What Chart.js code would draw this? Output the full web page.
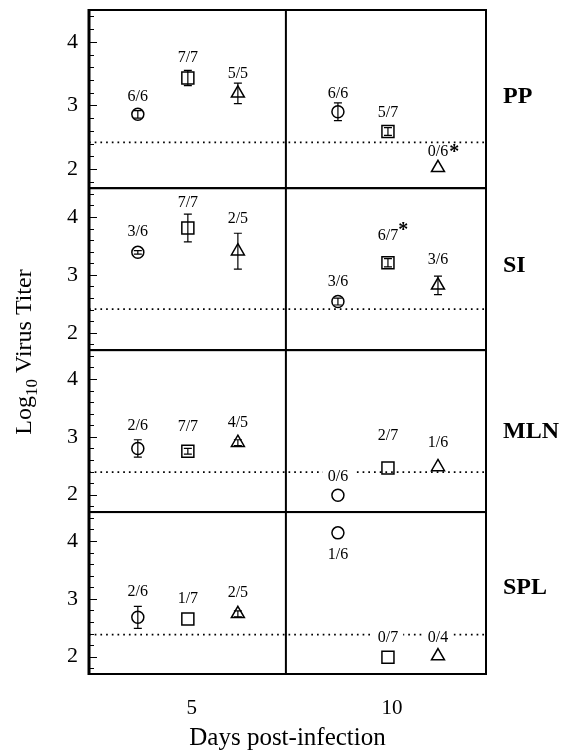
<!DOCTYPE html>
<html><head><meta charset="utf-8">
<script src="https://cdn.jsdelivr.net/npm/chart.js@4/dist/chart.umd.min.js"></script>
<style>html,body{margin:0;padding:0;background:#fff;} #wrap{width:564px;height:751px;position:relative;}</style>
</head><body><div id="wrap"><canvas id="c" width="564" height="751"></canvas></div>
<script>
// ---------- data ----------
const panels = ['PP', 'SI', 'MLN', 'SPL'];
const days = [5, 10];
const xTicks = [5, 10];
const yTicks = [2, 3, 4];
// order inside each array: day 5 (circle, square, triangle), day 10 (circle, square, triangle)
const ppTiter   = [2.86, 3.43, 3.19, 2.90, 2.59, 2.02];
const ppError   = [0.06, 0.12, 0.16, 0.14, 0.06, 0];
const ppLabels  = ['6/6', '7/7', '5/5', '6/6', '5/7', '0/6'];
const ppStar    = [false, false, false, false, false, true];

const siTiter   = [3.39, 3.81, 3.41, 2.54, 3.21, 2.82];
const siError   = [0.03, 0.24, 0.31, 0.06, 0.07, 0.16];
const siLabels  = ['3/6', '7/7', '2/5', '3/6', '6/7', '3/6'];
const siStar    = [false, false, false, false, true, false];

const mlnTiter  = [2.80, 2.75, 2.90, 1.99, 2.46, 2.48];
const mlnError  = [0.15, 0.05, 0.05, 0, 0, 0];
const mlnLabels = ['2/6', '7/7', '4/5', '0/6', '2/7', '1/6'];
const mlnStar   = [false, false, false, false, false, false];

const splTiter  = [2.68, 2.65, 2.74, 4.14, 1.99, 2.01];
const splError  = [0.19, 0, 0.05, 0, 0, 0];
const splLabels = ['2/6', '1/7', '2/5', '1/6', '0/7', '0/4'];
const splStar   = [false, false, false, false, false, false];

const detectionLimit = [2.42, 2.41, 2.39, 2.38];

const panelData = {
  PP:  {titer: ppTiter,  err: ppError,  labels: ppLabels,  star: ppStar},
  SI:  {titer: siTiter,  err: siError,  labels: siLabels,  star: siStar},
  MLN: {titer: mlnTiter, err: mlnError, labels: mlnLabels, star: mlnStar},
  SPL: {titer: splTiter, err: splError, labels: splLabels, star: splStar}
};

// ---------- styling ----------
const SERIF = '"Liberation Serif", "Times New Roman", serif';
const groupOffset = [-1.35, -0.1, 1.15];
const groupStyle = ['circle', 'rect', 'triangle'];
const groupRadius = [6, 8.5, 7.5];
const dayBoundary = 7.35;
const X_MIN = 2.43, X_MAX = 12.35;
const labelDy = {
  PP:  [-18, -20, -20, -18, -19, -16],
  SI:  [-21, -25, -32, -20, -27, -26],
  MLN: [-23, -25, -20, -18, -32, -24],
  SPL: [-26, -20, -21, 22, -19, -18]
};
const starPos = {PP: [1, 1], SI: [0, -5]};
const panelNameDy = {PP: -2, SI: -3, MLN: 1, SPL: -5};
const stackWeight = {PP: 1.1, SI: 1, MLN: 1, SPL: 1};

const xOf = i => days[Math.floor(i / 3)] + groupOffset[i % 3];

const datasets = [];
panels.forEach((p, pi) => {
  const d = panelData[p];
  datasets.push({
    type: 'scatter',
    label: p,
    yAxisID: 'y' + p,
    data: d.titer.map((v, i) => ({x: xOf(i), y: v})),
    pointStyle: d.titer.map((v, i) => groupStyle[i % 3]),
    pointRadius: d.titer.map((v, i) => groupRadius[i % 3]),
    pointHoverRadius: d.titer.map((v, i) => groupRadius[i % 3]),
    pointBorderColor: '#000',
    pointBackgroundColor: 'rgba(0,0,0,0)',
    pointBorderWidth: 1.5,
    clip: false
  });
  datasets.push({
    type: 'line',
    label: p + ' limit',
    yAxisID: 'y' + p,
    data: [{x: X_MIN, y: detectionLimit[pi]}, {x: X_MAX, y: detectionLimit[pi]}],
    borderColor: '#000',
    borderWidth: 1.7,
    borderDash: [1.7, 4],
    pointRadius: 0,
    fill: false
  });
});

const scales = {
  x: {
    type: 'linear', position: 'bottom', min: X_MIN, max: X_MAX,
    afterBuildTicks: s => { s.ticks = xTicks.map(v => ({value: v})); },
    afterFit: s => { s.height = 77; s.paddingLeft = 0; s.paddingRight = 0; },
    grid: {display: false, drawTicks: false}, border: {display: false},
    ticks: {color: '#000', font: {family: SERIF, size: 21}, padding: 22, maxRotation: 0},
    title: {display: true, text: 'Days post-infection', color: '#000', font: {family: SERIF, size: 25}, padding: {top: 0, bottom: -2}}
  }
};
// stacked axes: later-defined are placed on top
['SPL', 'MLN', 'SI', 'PP'].forEach(p => {
  scales['y' + p] = {
    type: 'linear', position: 'left', stack: 'panels', stackWeight: stackWeight[p],
    min: 1.7, max: 4.5,
    afterBuildTicks: s => { s.ticks = yTicks.map(v => ({value: v})); },
    afterFit: s => { s.width = 89; s.paddingTop = 0; s.paddingBottom = 0; },
    grid: {display: false, drawTicks: false}, border: {display: false},
    ticks: {color: '#000', font: {family: SERIF, size: 22}, padding: 11}
  };
});

const overlay = {
  id: 'overlay',
  afterDatasetsDraw(chart) {
    const ctx = chart.ctx, xs = chart.scales.x, area = chart.chartArea;
    ctx.save();
    ctx.strokeStyle = '#000'; ctx.fillStyle = '#000';
    panels.forEach((p, pi) => {
      const ys = chart.scales['y' + p];
      const d = panelData[p];
      d.titer.forEach((v, i) => {
        const x = xs.getPixelForValue(xOf(i));
        const y = ys.getPixelForValue(v);
        // error bar
        const e = d.err[i];
        if (e > 0) {
          const yt = ys.getPixelForValue(v + e), yb = ys.getPixelForValue(v - e);
          ctx.beginPath();
          ctx.moveTo(x, yt); ctx.lineTo(x, yb);
          ctx.moveTo(x - 4, yt); ctx.lineTo(x + 4, yt);
          ctx.moveTo(x - 4, yb); ctx.lineTo(x + 4, yb);
          ctx.lineWidth = 1.2; ctx.stroke();
        }
        // label
        ctx.font = '16px ' + SERIF;
        ctx.textAlign = 'center'; ctx.textBaseline = 'middle';
        const ly = y + labelDy[p][i];
        const w = ctx.measureText(d.labels[i]).width;
        ctx.fillStyle = '#fff';
        ctx.fillRect(x - w / 2 - 5, ly - 7, w + 10, 14);
        ctx.fillStyle = '#000';
        ctx.fillText(d.labels[i], x, ly);
        if (d.star[i]) {
          ctx.font = 'bold 20px ' + SERIF;
          ctx.textAlign = 'left';
          ctx.fillText('*', x + w / 2 + starPos[p][0], ly + starPos[p][1]);
        }
      });
      // inward ticks every 0.2
      ctx.lineWidth = 1.2;
      ctx.beginPath();
      for (let k = 9; k <= 22; k++) {
        const v = k / 5;
        const py = Math.round(ys.getPixelForValue(v)) + 0.5;
        const len = (k % 5 === 0) ? 8 : 5;
        ctx.moveTo(area.left, py); ctx.lineTo(area.left + len, py);
      }
      ctx.stroke();
      // panel frame
      ctx.lineWidth = 2;
      ctx.strokeRect(area.left, ys.top, area.right - area.left, ys.bottom - ys.top);
      // panel name
      ctx.font = 'bold 24px ' + SERIF;
      ctx.textAlign = 'left'; ctx.textBaseline = 'middle';
      ctx.fillText(p, area.right + 17, (ys.top + ys.bottom) / 2 + panelNameDy[p]);
    });
    // day divider
    const xd = xs.getPixelForValue(dayBoundary);
    ctx.lineWidth = 2;
    ctx.beginPath(); ctx.moveTo(xd, area.top); ctx.lineTo(xd, area.bottom); ctx.stroke();
    // heavier left axis
    ctx.lineWidth = 3;
    ctx.beginPath(); ctx.moveTo(area.left, area.top - 1); ctx.lineTo(area.left, area.bottom + 1); ctx.stroke();
    // y title with subscript
    ctx.translate(23, 352); ctx.rotate(-Math.PI / 2);
    const f1 = '24px ' + SERIF, f2 = '17px ' + SERIF;
    ctx.textBaseline = 'alphabetic'; ctx.textAlign = 'left';
    ctx.font = f1; const w1 = ctx.measureText('Log').width, w3 = ctx.measureText(' Virus Titer').width;
    ctx.font = f2; const w2 = ctx.measureText('10').width;
    let x0 = -(w1 + w2 + w3) / 2;
    ctx.font = f1; ctx.fillText('Log', x0, 8);
    ctx.font = f2; ctx.fillText('10', x0 + w1, 14);
    ctx.font = f1; ctx.fillText(' Virus Titer', x0 + w1 + w2, 8);
    ctx.restore();
  }
};

new Chart(document.getElementById('c'), {
  data: {datasets},
  options: {
    responsive: false, animation: false,
    layout: {padding: {top: 9, right: 78, bottom: 0, left: 0}},
    plugins: {legend: {display: false}, tooltip: {enabled: false}, title: {display: false}},
    scales
  },
  plugins: [overlay]
});
</script></body></html>
